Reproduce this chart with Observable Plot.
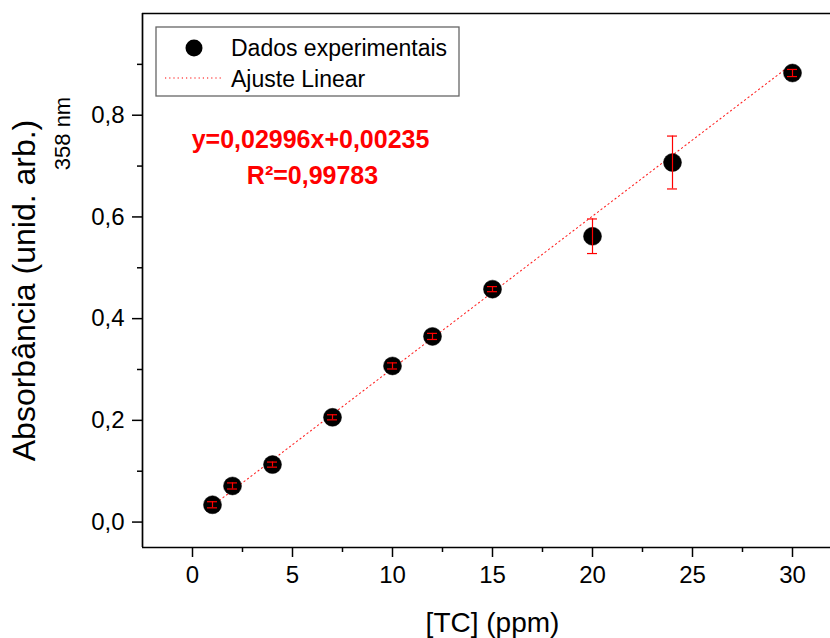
<!DOCTYPE html>
<html><head><meta charset="utf-8">
<script src="https://cdn.jsdelivr.net/npm/d3@7"></script>
<script src="https://cdn.jsdelivr.net/npm/@observablehq/plot@0.6"></script>
<style>
body{margin:0;background:#fff;overflow:hidden}
#chart{position:relative;width:830px;height:638px;overflow:hidden}
</style>
</head><body><div id="chart"></div>
<script>
const concentrations = [1, 2, 4, 7, 10, 12, 15, 20, 24, 30];
const absorbance = [0.034, 0.071, 0.113, 0.206, 0.307, 0.365, 0.458, 0.562, 0.707, 0.883];
const errors = [0.006, 0.006, 0.005, 0.005, 0.006, 0.006, 0.005, 0.034, 0.052, 0.007];
const fitSlope = 0.02996;
const fitIntercept = 0.00235;
const fitRange = [1, 30];
const xTicks = [0, 5, 10, 15, 20, 25, 30];
const xMinorTicks = [2.5, 7.5, 12.5, 17.5, 22.5, 27.5];
const yTicks = [0, 0.2, 0.4, 0.6, 0.8];
const yMinorTicks = [0.1, 0.3, 0.5, 0.7, 0.9];
const equationText = "y=0,02996x+0,00235";
const r2Text = "R\u00b2=0,99783";
const legendLabels = ["Dados experimentais", "Ajuste Linear"];

const data = concentrations.map((x, i) => ({x, y: absorbance[i], e: errors[i]}));
const fit = fitRange.map(x => ({x, y: fitSlope * x + fitIntercept}));
const font = "'Liberation Sans', Arial, Helvetica, sans-serif";
const comma = d => d.toFixed(1).replace(".", ",");
const capHalf = 0.25;

const plot = Plot.plot({
  width: 830, height: 638,
  marginLeft: 142, marginRight: 0, marginTop: 13, marginBottom: 91,
  x: {domain: [-2.5, 32.5], range: [142, 842]},
  y: {domain: [-0.05, 1.0], range: [547, 13]},
  style: {fontFamily: font, background: "white", color: "#000", overflow: "hidden"},
  marks: [
    Plot.axisX({ticks: xTicks, tickSize: 10, tickPadding: 8, fontSize: 24, tickFormat: d => String(d), label: null, strokeWidth: 1.5}),
    Plot.axisX({ticks: xMinorTicks, tickSize: 5, tickFormat: () => "", label: null, strokeWidth: 1.5}),
    Plot.axisY({ticks: yTicks, tickSize: 10, tickPadding: 8, fontSize: 24, tickFormat: comma, label: null, strokeWidth: 1.5}),
    Plot.axisY({ticks: yMinorTicks, tickSize: 5, tickFormat: () => "", label: null, strokeWidth: 1.5}),
    Plot.line(fit, {x: "x", y: "y", stroke: "#ff0000", strokeWidth: 1.1, strokeOpacity: 0.85, strokeDasharray: "1.2,3.2"}),
    Plot.dot(data, {x: "x", y: "y", r: 9, fill: "#000", stroke: "#000", strokeWidth: 0.5}),
    Plot.ruleX(data, {x: "x", y1: d => d.y - d.e, y2: d => d.y + d.e, stroke: "#ff0000", strokeWidth: 1.2}),
    Plot.ruleY(data, {x1: d => d.x - capHalf, x2: d => d.x + capHalf, y: d => d.y + d.e, stroke: "#ff0000", strokeWidth: 1.2}),
    Plot.ruleY(data, {x1: d => d.x - capHalf, x2: d => d.x + capHalf, y: d => d.y - d.e, stroke: "#ff0000", strokeWidth: 1.2}),
    Plot.ruleY([-0.05, 1.0], {stroke: "#000", strokeWidth: 1.7}),
    Plot.ruleX([-2.5], {stroke: "#000", strokeWidth: 1.7}),
    Plot.text([equationText], {text: d => d, frameAnchor: "top-left", dx: 168, dy: 126, fontSize: 25, fontWeight: "bold", fill: "#ff0000", textAnchor: "middle", lineAnchor: "middle"}),
    Plot.text([r2Text], {text: d => d, frameAnchor: "top-left", dx: 170, dy: 162, fontSize: 25, fontWeight: "bold", fill: "#ff0000", textAnchor: "middle", lineAnchor: "middle"}),
    Plot.text(["Absorbância (unid. arb.)"], {text: d => d, frameAnchor: "top-left", dx: -118, dy: 277, rotate: -90, fontSize: 32, textAnchor: "middle", lineAnchor: "middle", fill: "#000"}),
    Plot.text(["358 nm"], {text: d => d, frameAnchor: "top-left", dx: -80, dy: 120, rotate: -90, fontSize: 22, textAnchor: "middle", lineAnchor: "middle", fill: "#000"}),
    Plot.text(["[TC] (ppm)"], {text: d => d, frameAnchor: "top-left", dx: 350, dy: 610, fontSize: 28, textAnchor: "middle", lineAnchor: "middle", fill: "#000"})
  ]
});

document.getElementById("chart").appendChild(plot);

// Legend box inside the plot area
const svg = d3.select(plot);
const lg = svg.append("g").attr("font-family", font).attr("font-size", 23).attr("text-anchor", "start");
lg.append("rect").attr("x", 156).attr("y", 27).attr("width", 303).attr("height", 69)
  .attr("fill", "#fff").attr("stroke", "#666").attr("stroke-width", 1.3);
lg.append("circle").attr("cx", 194).attr("cy", 48).attr("r", 8.5).attr("fill", "#000");
lg.append("line").attr("x1", 165).attr("x2", 223).attr("y1", 78).attr("y2", 78)
  .attr("stroke", "#ff0000").attr("stroke-width", 1.2).attr("stroke-dasharray", "1.2,3");
lg.append("text").attr("x", 231).attr("y", 56).attr("fill", "#000").attr("text-anchor", "start").text(legendLabels[0]);
lg.append("text").attr("x", 231).attr("y", 87).attr("fill", "#000").attr("text-anchor", "start").text(legendLabels[1]);
</script>
</body></html>
